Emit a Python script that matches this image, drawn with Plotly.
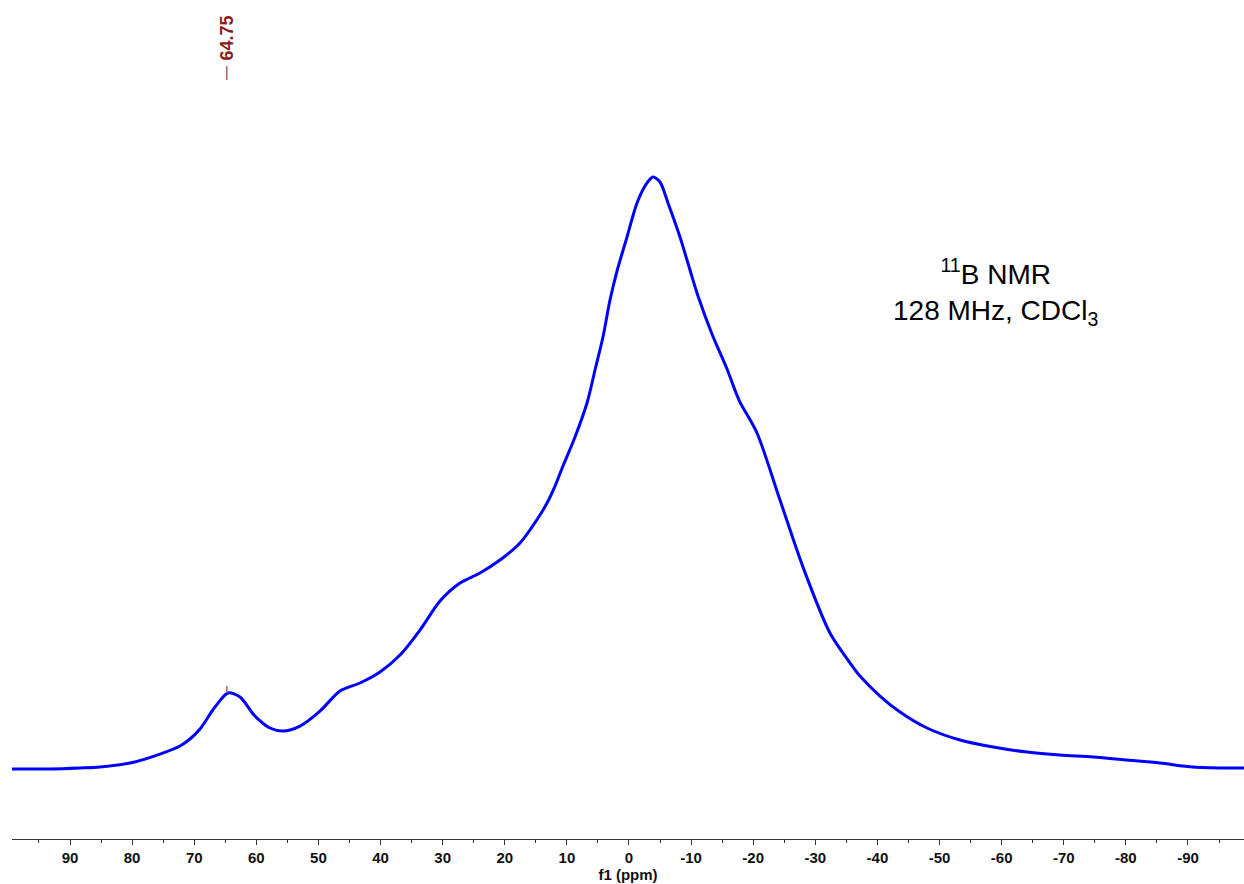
import plotly.graph_objects as go

# Chemical shift (ppm) and relative intensity
ppm = [99.34, 93.22, 88.39, 85.17, 80.34, 75.51, 72.29, 70.68, 69.07, 66.66, 64.56,
       62.63, 60.22, 57.80, 55.71, 52.97, 49.75, 46.53, 43.31, 40.09, 36.87,
       33.65, 30.43, 27.21, 23.99, 20.77, 17.55, 14.33, 13.20, 11.91, 10.63,
       8.69, 6.76, 5.47, 4.19, 3.06, 1.93, 0.32, -1.29, -2.90, -3.86,
       -4.99, -6.28, -8.21, -9.82, -11.11, -13.36, -15.78, -17.71, -20.61, -24.31,
       -28.01, -32.36, -36.07, -37.19, -40.41, -43.63, -47.98, -53.29, -58.61, -64.08,
       -69.39, -74.71, -80.18, -85.49, -90.81, -96.28, -99.02]
intensity = [0.0000, 0.0000, 0.0017, 0.0034, 0.0101, 0.0253, 0.0389, 0.0507, 0.0676, 0.1047, 0.1284,
             0.1216, 0.0895, 0.0693, 0.0642, 0.0726, 0.0980, 0.1318, 0.1453, 0.1639, 0.1926,
             0.2348, 0.2838, 0.3142, 0.3311, 0.3530, 0.3818, 0.4291, 0.4493, 0.4780, 0.5118,
             0.5608, 0.6182, 0.6740, 0.7297, 0.7922, 0.8412, 0.8986, 0.9561, 0.9899, 1.0000,
             0.9916, 0.9561, 0.8986, 0.8429, 0.7990, 0.7348, 0.6757, 0.6233, 0.5676, 0.4544,
             0.3412, 0.2297, 0.1723, 0.1571, 0.1233, 0.0963, 0.0693, 0.0490, 0.0372, 0.0287,
             0.0236, 0.0203, 0.0152, 0.0101, 0.0034, 0.0017, 0.0017]

peak_labels = [64.75]
peak_heights = [0.1284]

tick_vals = [90, 80, 70, 60, 50, 40, 30, 20, 10, 0, -10, -20, -30, -40, -50, -60, -70, -80, -90]
tick_text = [str(v) for v in tick_vals]

x_range = [99.34, -99.02]
y_range = [-0.1182, 1.2990]

fig = go.Figure()
fig.add_trace(go.Scatter(
    x=ppm, y=intensity, mode="lines",
    line=dict(color="#0000FF", width=3, shape="spline", smoothing=0.8),
    hoverinfo="skip", showlegend=False,
))

label_color = "#8C1C1C"
for p, h in zip(peak_labels, peak_heights):
    fig.add_annotation(
        x=p, xref="x", y=0.955, yref="paper",
        text=f"{p:.2f}", textangle=-90, showarrow=False,
        font=dict(family="Arial, Liberation Sans", size=18, color=label_color, weight="bold"),
        xanchor="center", yanchor="middle",
    )
    fig.add_shape(type="line", xref="x", yref="paper", x0=p, x1=p, y0=0.9046, y1=0.9213,
                  line=dict(color="#A04848", width=1.3))
    fig.add_shape(type="line", xref="x", yref="y", x0=p, x1=p, y0=h, y1=h + 0.012,
                  line=dict(color="#A86060", width=1.5))

fig.add_annotation(
    x=0.798, xref="paper", y=0.652, yref="paper",
    text="<sup>11</sup>B NMR<br>128 MHz, CDCl<sub>3</sub>",
    showarrow=False, align="center",
    font=dict(family="Arial, Liberation Sans", size=28, color="#000000"),
    xanchor="center", yanchor="middle",
)

fig.update_layout(
    width=1244, height=884,
    margin=dict(l=12, r=0, t=0, b=45),
    plot_bgcolor="white", paper_bgcolor="white",
    xaxis=dict(
        range=x_range, showgrid=False, zeroline=False,
        showline=True, linecolor="#333333", linewidth=1,
        tickmode="array", tickvals=tick_vals, ticktext=tick_text,
        ticks="outside", ticklen=5, tickcolor="#333333", tickwidth=1,
        minor=dict(dtick=5, ticks="outside", ticklen=3, tickcolor="#333333", tickwidth=1),
        tickfont=dict(family="Arial, Liberation Sans", size=15, color="#111111", weight="bold"),
        automargin=False,
        title=dict(text="f1 (ppm)", standoff=0,
                   font=dict(family="Arial, Liberation Sans", size=15, color="#111111", weight="bold")),
    ),
    yaxis=dict(range=y_range, visible=False, showgrid=False, zeroline=False),
)

fig.write_html("out.html")
